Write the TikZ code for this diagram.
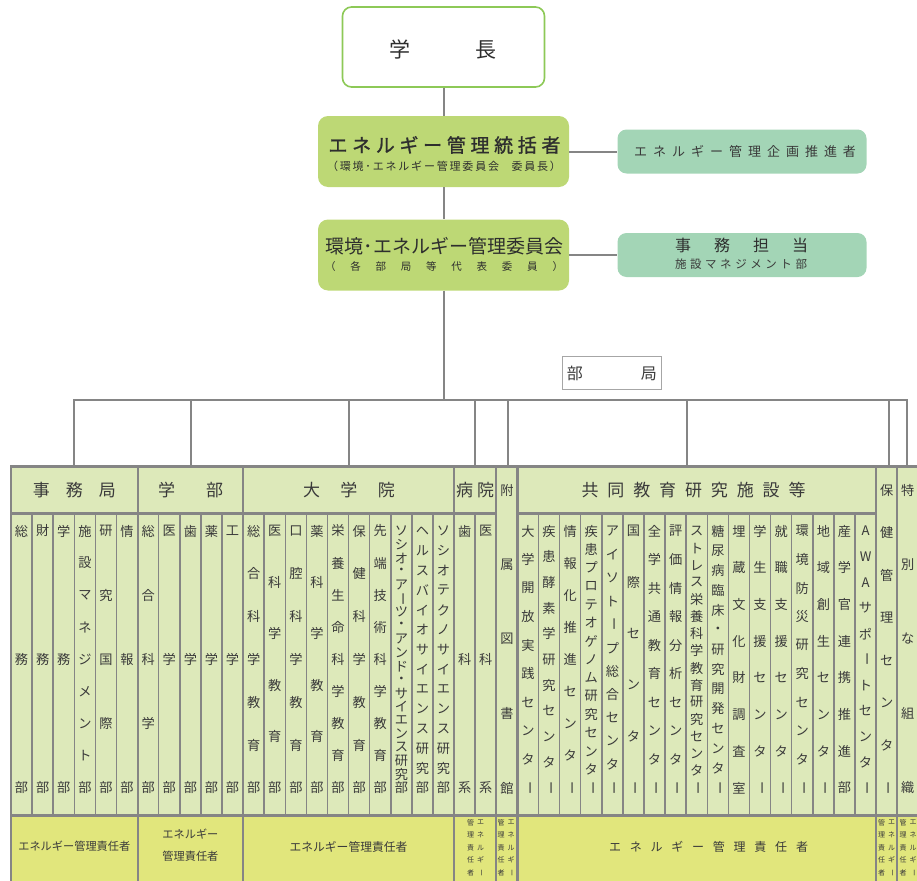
\documentclass[tikz,border=0pt]{standalone}
\usepackage{fontspec}
\setmainfont{Noto Sans CJK JP}
\newfontfamily\jpsemi[FakeBold=1.2]{Noto Sans CJK JP}
\definecolor{tblgreen}{HTML}{DDE9BA}
\definecolor{tblyellow}{HTML}{E1E67C}
\definecolor{gridgray}{HTML}{858585}
\definecolor{boxgreen}{HTML}{BDD875}
\definecolor{mint}{HTML}{A3D5B6}
\definecolor{presborder}{HTML}{8DC957}
\definecolor{txtdark}{HTML}{2E2E2E}
\definecolor{txttbl}{HTML}{3A3A3A}
\definecolor{lightborder}{HTML}{A6A6A6}
\newcommand\X[1]{11+(#1)*21.1}
\newcommand\vb{\rotatebox[origin=c]{-90}{ー}}
\newcommand\spr[2]{\makebox[#1][s]{\foreach \sc [count=\n] in {#2}{\ifnum\n>1\hfil\fi\sc}}}
\newcommand\vcol[5]{%
  \foreach \sc [count=\n] in {#5} {\xdef\vn{\n}}%
  \foreach \sc [count=\n from 0] in {#5} {%
    \node[#1] at ({#2}, {#3+\n*(#4-#3)/(\vn-1)}) {\sc};}%
}
\tikzset{
  coltext/.style={font=\fontsize{13.2}{14}\selectfont, text=txttbl, inner sep=0pt},
  tinytext/.style={font=\fontsize{7}{7}\selectfont, text=txttbl, inner sep=0pt},
  hdrtext/.style={font=\fontsize{17}{17}\selectfont, text=txttbl, inner sep=0pt},
  bottext/.style={font=\fontsize{11.2}{12}\selectfont, text=txttbl, inner sep=0pt},
  toptext/.style={text=txtdark, inner sep=0pt},
  sepline/.style={draw=gridgray, line width=2.2pt},
  innerline/.style={draw=gridgray, line width=1.5pt},
  outerline/.style={draw=gridgray, line width=2.6pt},
  conn/.style={draw=gridgray, line width=2pt},
  greenbox/.style={fill=boxgreen, rounded corners=10pt, minimum width=251pt, minimum height=71pt, inner sep=0pt},
  mintbox/.style={fill=mint, rounded corners=9pt, minimum width=249pt, minimum height=44pt, inner sep=0pt},
}
\begin{document}
\begin{tikzpicture}[x=1pt,y=-1pt]
\useasboundingbox (0,0) rectangle (917,880);
\clip (0,0) rectangle (917,880);

% ---- top boxes ----
\node[draw=presborder, line width=1.6pt, fill=white, rounded corners=9pt,
      minimum width=202pt, minimum height=80pt, inner sep=0pt] (gakucho) at (443.5,47) {};
\node[toptext, font=\fontsize{21}{21}\selectfont] (gakuchoT) at (443,49) {\spr{107pt}{学,長}};

\node[greenbox] (tokatsu) at (443.5,151.5) {};
\node[toptext, font=\fontsize{19}{19}\jpsemi] (tokatsuA) at (444.5,145) {\spr{232pt}{エ,ネ,ル,ギ,ー,管,理,統,括,者}};
\node[toptext, font=\fontsize{11}{11}\selectfont] (tokatsuB) at (444,166.5) {\spr{234pt}{（,環,境,･,エ,ネ,ル,ギ,ー,管,理,委,員,会,\hspace{0.8em},委,員,長,）}};

\node[greenbox] (iinkai) at (443.5,255) {};
\node[toptext, font=\fontsize{19}{19}\selectfont] (iinkaiA) at (444.5,246.5) {環境･エネルギー管理委員会};
\node[toptext, font=\fontsize{10.5}{10.5}\selectfont] (iinkaiB) at (444,266.5) {\spr{238pt}{（,各,部,局,等,代,表,委,員,）}};

\node[mintbox] (suishin) at (742,151.5) {};
\node[toptext, text=txttbl, font=\fontsize{13}{13}\selectfont] (suishinT) at (745,151) {\spr{222pt}{エ,ネ,ル,ギ,ー,管,理,企,画,推,進,者}};

\node[mintbox] (jimu) at (742,255) {};
\node[toptext, font=\fontsize{16}{16}\selectfont] (jimuA) at (741.5,245.5) {\spr{133pt}{事,務,担,当}};
\node[toptext, text=txttbl, font=\fontsize{11.5}{11.5}\selectfont] (jimuB) at (741,264) {\spr{132pt}{施,設,マ,ネ,ジ,メ,ン,ト,部}};

\node[draw=lightborder, line width=0.9pt, fill=white, minimum width=99pt, minimum height=33pt,
      inner sep=0pt, text=txttbl, font=\fontsize{16}{16}\selectfont] (bukyoku) at (611.8,373.3) {\spr{90pt}{部,局}};

% ---- connectors ----
\coordinate (bus) at (443.5,400);
\draw[conn] (gakucho.south) -- (tokatsu.north);
\draw[conn] (tokatsu.south) -- (iinkai.north);
\draw[conn] (iinkai.south) -- (bus);
\draw[conn] (tokatsu.east) -- (suishin.west);
\draw[conn] (iinkai.east) -- (jimu.west);
\foreach \nm/\xx in {d0/74.3, d1/190.5, d2/349.2, d3/475.2, d4/508.3, d5/687.4, d6/889, d7/906.5}{
  \coordinate (b\nm) at (\xx,400);
  \coordinate (t\nm) at (\xx,466);
}
\draw[conn] (td0) -- (bd0) -- (bd7) -- (td7);
\foreach \nm in {d1,d2,d3,d4,d5,d6}{\draw[conn] (b\nm) -- (t\nm);}

% ---- table ----
\fill[tblgreen] ({\X{0}},466.5) rectangle (925,815.5);
\fill[tblyellow] ({\X{0}},815.5) rectangle (925,885);
\foreach \k in {1,2,3,4,5,7,8,9,10,12,13,14,15,16,17,18,19,20,22,25,26,27,28,29,30,31,32,33,34,35,36,37,38,39,40}
  {\draw[innerline] ({\X{\k}},513.5) -- ({\X{\k}},815.5);}
\foreach \k in {6,11,21,23,24,41,42}
  {\draw[sepline] ({\X{\k}},466.5) -- ({\X{\k}},885);}
\draw[sepline] ({\X{0}},513.5) -- ({\X{23}},513.5);
\draw[sepline] ({\X{24}},513.5) -- ({\X{41}},513.5);
\draw[sepline] ({\X{0}},815.5) -- (925,815.5);
\draw[outerline] (925,466.5) -- ({\X{0}},466.5) -- ({\X{0}},885);

% header texts
\node[hdrtext] (hjimu) at (74.3,490) {\spr{83pt}{事,務,局}};
\node[hdrtext] (hgakubu) at (190.6,490) {\spr{65pt}{学,部}};
\node[hdrtext] (hdaigakuin) at (349,490) {\spr{92pt}{大,学,院}};
\node[hdrtext] (hbyoin) at (475.2,490) {\spr{38pt}{病,院}};
\node[hdrtext] (hkyodo) at (693.5,490) {\spr{224pt}{共,同,教,育,研,究,施,設,等}};

% column texts
\vcol{coltext}{\X{0.5}}{531}{788}{総,務,部}
\vcol{coltext}{\X{1.5}}{531}{788}{財,務,部}
\vcol{coltext}{\X{2.5}}{531}{788}{学,務,部}
\vcol{coltext}{\X{3.5}}{531}{788}{施,設,マ,ネ,ジ,メ,ン,ト,部}
\vcol{coltext}{\X{4.5}}{531}{788}{研,究,国,際,部}
\vcol{coltext}{\X{5.5}}{531}{788}{情,報,部}
\vcol{coltext}{\X{6.5}}{531}{788}{総,合,科,学,部}
\vcol{coltext}{\X{7.5}}{531}{788}{医,学,部}
\vcol{coltext}{\X{8.5}}{531}{788}{歯,学,部}
\vcol{coltext}{\X{9.5}}{531}{788}{薬,学,部}
\vcol{coltext}{\X{10.5}}{531}{788}{工,学,部}
\vcol{coltext}{\X{11.5}}{531}{788}{総,合,科,学,教,育,部}
\vcol{coltext}{\X{12.5}}{531}{788}{医,科,学,教,育,部}
\vcol{coltext}{\X{13.5}}{531}{788}{口,腔,科,学,教,育,部}
\vcol{coltext}{\X{14.5}}{531}{788}{薬,科,学,教,育,部}
\vcol{coltext}{\X{15.5}}{531}{788}{栄,養,生,命,科,学,教,育,部}
\vcol{coltext}{\X{16.5}}{531}{788}{保,健,科,学,教,育,部}
\vcol{coltext}{\X{17.5}}{531}{788}{先,端,技,術,科,学,教,育,部}
\vcol{coltext}{\X{18.5}}{531}{788}{ソ,シ,オ,・,ア,\vb,ツ,・,ア,ン,ド,・,サ,イ,エ,ン,ス,研,究,部}
\vcol{coltext}{\X{19.5}}{531}{788}{ヘ,ル,ス,バ,イ,オ,サ,イ,エ,ン,ス,研,究,部}
\vcol{coltext}{\X{20.5}}{531}{788}{ソ,シ,オ,テ,ク,ノ,サ,イ,エ,ン,ス,研,究,部}
\vcol{coltext}{\X{21.5}}{531}{788}{歯,科,系}
\vcol{coltext}{\X{22.5}}{531}{788}{医,科,系}
\vcol{coltext}{\X{23.5}}{490}{788}{附,属,図,書,館}
\vcol{coltext}{\X{24.5}}{531}{788}{大,学,開,放,実,践,セ,ン,タ,\vb}
\vcol{coltext}{\X{25.5}}{531}{788}{疾,患,酵,素,学,研,究,セ,ン,タ,\vb}
\vcol{coltext}{\X{26.5}}{531}{788}{情,報,化,推,進,セ,ン,タ,\vb}
\vcol{coltext}{\X{27.5}}{531}{788}{疾,患,プ,ロ,テ,オ,ゲ,ノ,ム,研,究,セ,ン,タ,\vb}
\vcol{coltext}{\X{28.5}}{531}{788}{ア,イ,ソ,ト,\vb,プ,総,合,セ,ン,タ,\vb}
\vcol{coltext}{\X{29.5}}{531}{788}{国,際,セ,ン,タ,\vb}
\vcol{coltext}{\X{30.5}}{531}{788}{全,学,共,通,教,育,セ,ン,タ,\vb}
\vcol{coltext}{\X{31.5}}{531}{788}{評,価,情,報,分,析,セ,ン,タ,\vb}
\vcol{coltext}{\X{32.5}}{531}{788}{ス,ト,レ,ス,栄,養,科,学,教,育,研,究,セ,ン,タ,\vb}
\vcol{coltext}{\X{33.5}}{531}{788}{糖,尿,病,臨,床,・,研,究,開,発,セ,ン,タ,\vb}
\vcol{coltext}{\X{34.5}}{531}{788}{埋,蔵,文,化,財,調,査,室}
\vcol{coltext}{\X{35.5}}{531}{788}{学,生,支,援,セ,ン,タ,\vb}
\vcol{coltext}{\X{36.5}}{531}{788}{就,職,支,援,セ,ン,タ,\vb}
\vcol{coltext}{\X{37.5}}{531}{788}{環,境,防,災,研,究,セ,ン,タ,\vb}
\vcol{coltext}{\X{38.5}}{531}{788}{地,域,創,生,セ,ン,タ,\vb}
\vcol{coltext}{\X{39.5}}{531}{788}{産,学,官,連,携,推,進,部}
\vcol{coltext}{\X{40.5}}{531}{788}{A,W,A,サ,ポ,\vb,ト,セ,ン,タ,\vb}
\vcol{coltext}{\X{41.5}}{490}{788}{保,健,管,理,セ,ン,タ,\vb}
\vcol{coltext}{\X{42.5}}{490}{788}{特,別,な,組,織}

% bottom row
\node[bottext] (bjimu) at (74.3,846) {エネルギー管理責任者};
\node[bottext] (bgak1) at (190.4,834.5) {エネルギー};
\node[bottext] (bgak2) at (190.4,856.5) {管理責任者};
\node[bottext, font=\fontsize{11.8}{12}\selectfont] (bdai) at (348.5,846.5) {エネルギー管理責任者};
\node[bottext, font=\fontsize{12}{12}\selectfont] (bkyodo) at (708.5,846.5) {\spr{199pt}{エ,ネ,ル,ギ,ー,管,理,責,任,者}};
\foreach \cx in {475.5, 506, 886.5, 908}{
  \vcol{tinytext}{\cx+5}{822.5}{872.5}{エ,ネ,ル,ギ,\vb}
  \vcol{tinytext}{\cx-5}{822.5}{872.5}{管,理,責,任,者}
}
\end{tikzpicture}
\end{document}
